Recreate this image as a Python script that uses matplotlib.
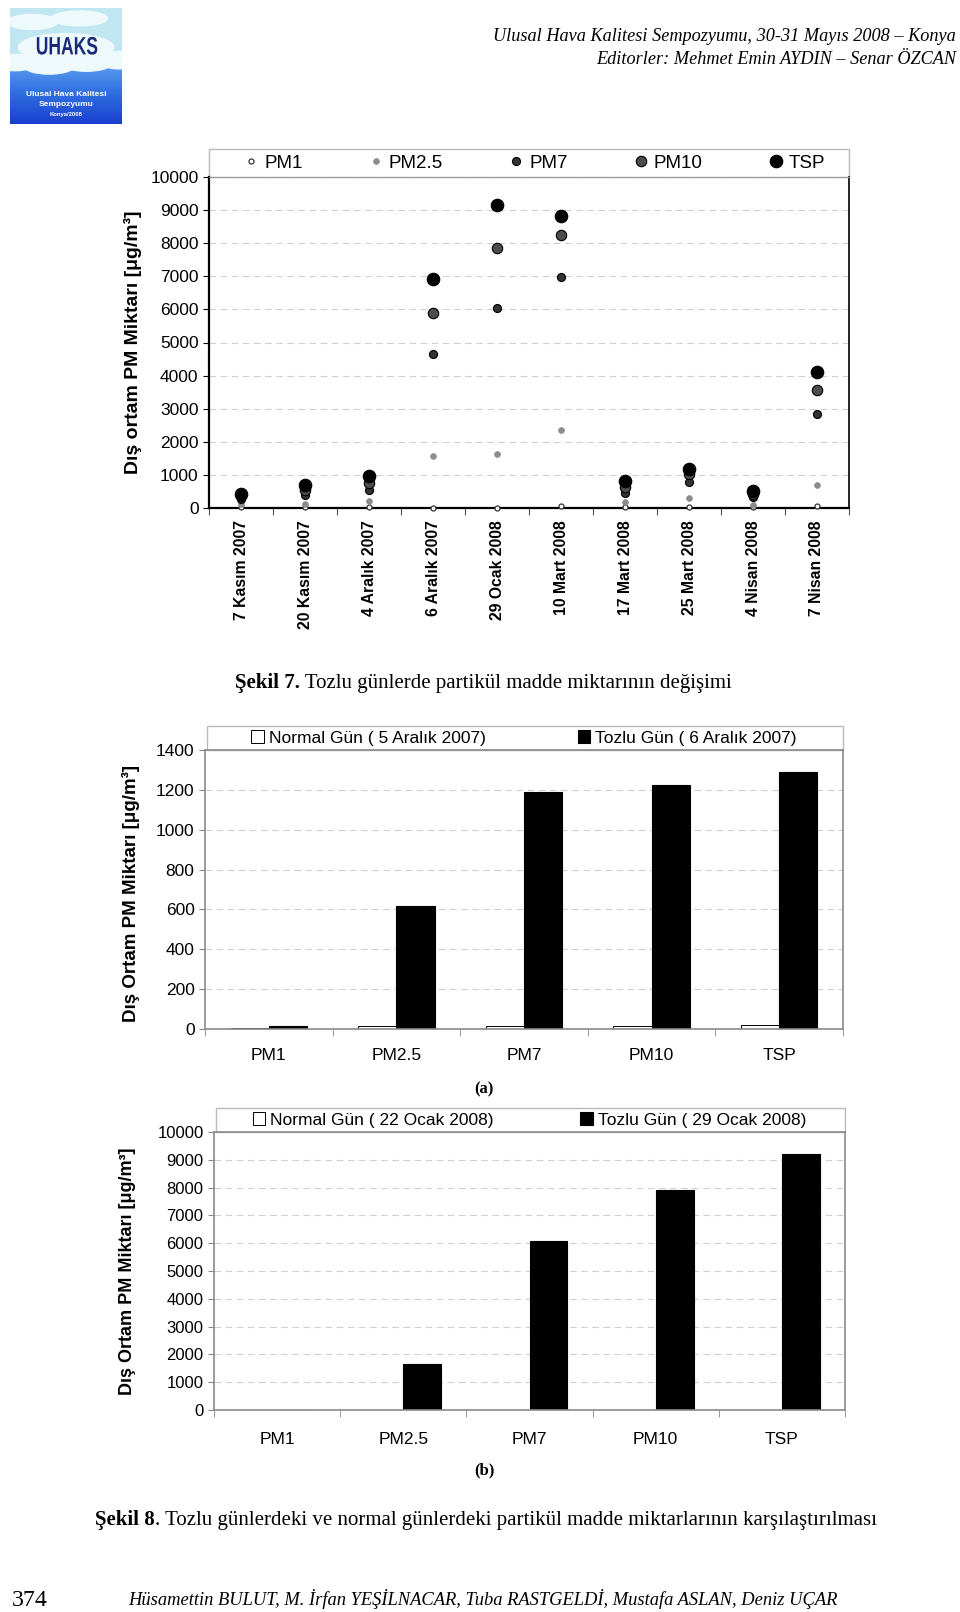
import numpy as np
import matplotlib
matplotlib.use('Agg')
import matplotlib.pyplot as plt
from matplotlib.patches import Rectangle, Ellipse, PathPatch
from matplotlib.colors import LinearSegmentedColormap
from matplotlib.textpath import TextPath
from matplotlib.font_manager import FontProperties
from matplotlib.transforms import Affine2D

plt.rcParams['font.family'] = ['Liberation Sans', 'DejaVu Sans']

# ---- data: Sekil 7 (scatter) ----
dates = ['7 Kasım 2007', '20 Kasım 2007', '4 Aralık 2007', '6 Aralık 2007',
         '29 Ocak 2008', '10 Mart 2008', '17 Mart 2008', '25 Mart 2008',
         '4 Nisan 2008', '7 Nisan 2008']
pm1 = [20, 20, 20, 10, 10, 60, 20, 20, 40, 60]
pm25 = [130, 130, 200, 1560, 1630, 2360, 170, 310, 80, 680]
pm7 = [280, 400, 550, 4650, 6040, 6990, 450, 790, 330, 2840]
pm10 = [350, 530, 750, 5890, 7870, 8240, 630, 1030, 430, 3570]
tsp = [430, 700, 980, 6920, 9160, 8820, 810, 1180, 510, 4100]

# ---- data: Sekil 8 (bars) ----
fractions = ['PM1', 'PM2.5', 'PM7', 'PM10', 'TSP']
normal_a = [3, 13, 13, 13, 20]
dusty_a = [15, 618, 1188, 1224, 1292]
normal_b = [5, 8, 8, 10, 10]
dusty_b = [10, 1660, 6070, 7930, 9210]

W, H = 960, 1612
fig = plt.figure(figsize=(W / 100, H / 100), dpi=100)
renderer = fig.canvas.get_renderer()


def box(l, t, r, b):
    return [l / W, 1 - b / H, (r - l) / W, (b - t) / H]


def put_text(x, y, parts, width=None, size=14, family='Liberation Serif', ha='left'):
    # parts: list of (text, weight, style); fitted to given pixel width
    def draw(sz):
        objs, cx = [], x
        for s, wt, st in parts:
            t = fig.text(cx / W, 1 - y / H, s, fontsize=sz, fontweight=wt, fontstyle=st,
                         family=family, va='baseline', ha='left')
            objs.append(t)
            cx += t.get_window_extent(renderer).width
        return objs, cx - x
    objs, tw = draw(size)
    if width is not None:
        for o in objs:
            o.remove()
        size = size * width / tw
        objs, tw = draw(size)
    if ha == 'right':
        for o in objs:
            px, py = o.get_position()
            o.set_position((px - tw / W, py))
    return objs


# ---- logo ----
axl = fig.add_axes(box(10, 8, 122, 124))
axl.set_xlim(0, 1)
axl.set_ylim(0, 1)
axl.axis('off')
axl.add_patch(Rectangle((0, 0.4), 1, 0.6, color='#bfe6f1'))
blue = LinearSegmentedColormap.from_list('lb', ['#1a3fcf', '#2f6ee0', '#5c9ff0'])
axl.imshow(np.linspace(0, 1, 100)[:, None], cmap=blue, origin='lower',
           extent=(0, 1, 0, 0.52), aspect='auto', zorder=1)
for cx, cy, w, h in [(0.05, 0.53, 0.4, 0.14), (0.35, 0.5, 0.45, 0.14), (0.68, 0.52, 0.45, 0.13),
                     (0.97, 0.55, 0.35, 0.15), (0.2, 0.88, 0.45, 0.13), (0.62, 0.91, 0.5, 0.13),
                     (0.5, 0.66, 0.85, 0.24)]:
    axl.add_patch(Ellipse((cx, cy), w, h, color='#eef9fc', zorder=2))
tp = TextPath((0, 0), 'UHAKS', size=1, prop=FontProperties(family='Liberation Sans', weight='bold'))
tw_ = tp.get_extents().width
sx, sy = 0.54 / tw_, 0.155 / 0.716
axl.add_patch(PathPatch(tp, transform=Affine2D().scale(sx, sy).translate(0.5 - 0.27, 0.6) + axl.transData,
                        color='#1b2a78', lw=0, zorder=3))
for yy, s, fs in [(0.25, 'Ulusal Hava Kalitesi', 6), (0.17, 'Sempozyumu', 6), (0.08, 'Konya/2008', 4.2)]:
    axl.text(0.5, yy, s, ha='center', va='center', fontsize=fs, color='white',
             fontweight='bold', zorder=3)

# ---- header ----
put_text(956, 41, [('Ulusal Hava Kalitesi Sempozyumu, 30-31 Mayıs 2008 – Konya', 'normal', 'italic')],
         width=463, ha='right')
put_text(956, 64, [('Editorler: Mehmet Emin AYDIN – Senar ÖZCAN', 'normal', 'italic')],
         width=360, ha='right')

# ---- Sekil 7 scatter ----
ax1 = fig.add_axes(box(209, 177, 849, 508))
x = np.arange(len(dates))
styles = [('PM1', pm1, 3.6, 'white', '#333333', 0.9),
          ('PM2.5', pm25, 4.2, '#8c8c8c', '#8c8c8c', 0.5),
          ('PM7', pm7, 5.8, '#333333', 'black', 0.8),
          ('PM10', pm10, 7.5, '#4d4d4d', 'black', 0.8),
          ('TSP', tsp, 9.0, 'black', 'black', 0.8)]
for i, (name, vals, ms, fc, ec, mew) in enumerate(styles):
    ax1.plot(x, vals, ls='none', marker='o', ms=ms, mfc=fc, mec=ec, mew=mew,
             label=name, clip_on=False, zorder=3 + i)
ax1.set_xlim(-0.5, len(dates) - 0.5)
ax1.set_ylim(0, 10000)
ax1.set_yticks(range(0, 10001, 1000))
ax1.tick_params(axis='y', labelsize=12.5, length=4, width=0.8)
ax1.set_xticks(x)
ax1.set_xticklabels(dates, rotation=90, fontweight='bold', fontsize=11.3)
ax1.tick_params(axis='x', length=0, pad=9)
ax1.set_xticks(np.arange(-0.5, len(dates), 1), minor=True)
ax1.tick_params(axis='x', which='minor', length=5, width=0.8, color='#555555')
ax1.yaxis.grid(True, ls=(0, (6, 4)), color='#d0d0d0', lw=0.8)
ax1.set_axisbelow(True)
for s in ['left', 'bottom']:
    ax1.spines[s].set_linewidth(1.6)
ax1.spines['right'].set_linewidth(1.2)
ax1.spines['top'].set_color('#999999')
ax1.add_patch(Rectangle((0, 1), 1, 28 / 331, transform=ax1.transAxes, fill=False,
                        ec='#bbbbbb', lw=1, clip_on=False))
ax1.legend(loc='center', bbox_to_anchor=(0.51, 1 + 14 / 331), ncol=5, frameon=False,
           fontsize=13.5, handlelength=0.6, handletextpad=0.4, columnspacing=3.6,
           borderaxespad=0)
fig.text(133 / W, 1 - 342 / H, 'Dış ortam PM Miktarı [μg/m³]', rotation=90,
         ha='center', va='center', fontsize=14, fontweight='bold')

put_text(235, 688, [('Şekil 7.', 'bold', 'normal'),
                    (' Tozlu günlerde partikül madde miktarının değişimi', 'normal', 'normal')],
         width=498)


def bar_chart(rect, normal, dusty, labels, ymax, ystep, tick_size, leg_h, colsp, lab_pad):
    ax = fig.add_axes(rect)
    xc = np.arange(len(fractions))
    ax.bar(xc - 0.15, normal, width=0.3, color='white', edgecolor='black', lw=0.7,
           label=labels[0], zorder=3)
    ax.bar(xc + 0.15, dusty, width=0.3, color='black', edgecolor='black', lw=0.8,
           label=labels[1], zorder=3)
    ax.set_xlim(-0.5, len(fractions) - 0.5)
    ax.set_ylim(0, ymax)
    ax.set_yticks(np.arange(0, ymax + 1, ystep))
    ax.tick_params(axis='y', labelsize=tick_size, length=4, color='#888888')
    ax.set_xticks(xc)
    ax.set_xticklabels(fractions, fontsize=12.5)
    ax.tick_params(axis='x', length=0, pad=lab_pad)
    ax.set_xticks(np.arange(-0.5, len(fractions), 1), minor=True)
    ax.tick_params(axis='x', which='minor', length=5, color='#888888')
    ax.yaxis.grid(True, ls=(0, (6, 4)), color='#d0d0d0', lw=0.8)
    ax.set_axisbelow(True)
    for s in ax.spines.values():
        s.set_color('#8a8a8a')
        s.set_linewidth(1.2)
    ax.spines['bottom'].set_zorder(4)
    hh = leg_h / (rect[3] * H)
    ax.add_patch(Rectangle((0.003, 1), 0.997, hh, transform=ax.transAxes, fill=False,
                           ec='#bbbbbb', lw=1, clip_on=False))
    ax.legend(loc='center', bbox_to_anchor=(0.5, 1 + hh / 2), ncol=2, frameon=False,
              fontsize=12.5, handlelength=0.7, handleheight=0.7, handletextpad=0.3,
              columnspacing=colsp, borderaxespad=0)
    return ax


bar_chart(box(205, 750, 843, 1029), normal_a, dusty_a,
          ['Normal Gün ( 5 Aralık 2007)', 'Tozlu Gün ( 6 Aralık 2007)'],
          1400, 200, 12.5, 24, 5.3, 14)
fig.text(131 / W, 1 - 893 / H, 'Dış Ortam PM Miktarı [μg/m³]', rotation=90,
         ha='center', va='center', fontsize=13.5, fontweight='bold')
fig.text(484 / W, 1 - 1089 / H, '(a)', ha='center', va='center', fontsize=12,
         fontweight='bold', family='Liberation Serif')

bar_chart(box(214, 1132, 845, 1410), normal_b, dusty_b,
          ['Normal Gün ( 22 Ocak 2008)', 'Tozlu Gün ( 29 Ocak 2008)'],
          10000, 1000, 12, 24, 5.0, 16)
fig.text(128 / W, 1 - 1271 / H, 'Dış Ortam PM Miktarı [μg/m³]', rotation=90,
         ha='center', va='center', fontsize=13, fontweight='bold')
fig.text(484 / W, 1 - 1470 / H, '(b)', ha='center', va='center', fontsize=12,
         fontweight='bold', family='Liberation Serif')

put_text(95, 1525, [('Şekil 8', 'bold', 'normal'),
                    ('. Tozlu günlerdeki ve normal günlerdeki partikül madde miktarlarının karşılaştırılması',
                     'normal', 'normal')], width=781)

# ---- footer ----
put_text(12, 1606, [('374', 'normal', 'normal')], width=36)
put_text(128, 1605, [('Hüsamettin BULUT, M. İrfan YEŞİLNACAR, Tuba RASTGELDİ, Mustafa ASLAN, Deniz UÇAR',
                      'normal', 'italic')], width=713)

fig.savefig('out.png', dpi=100, facecolor='white')
